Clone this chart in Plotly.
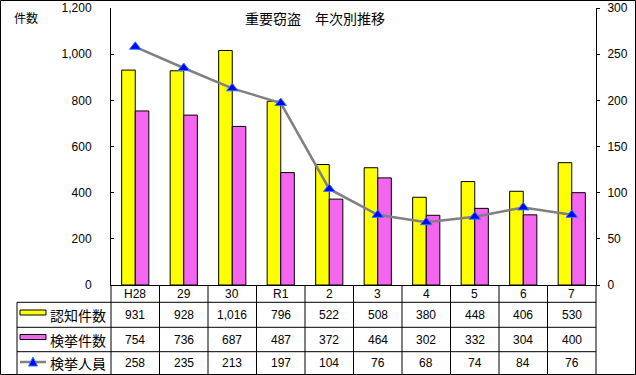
import plotly.graph_objects as go

categories = ["H28", "29", "30", "R1", "2", "3", "4", "5", "6", "7"]
ninchi = [931, 928, 1016, 796, 522, 508, 380, 448, 406, 530]
kenkyo = [754, 736, 687, 487, 372, 464, 302, 332, 304, 400]
jinin = [258, 235, 213, 197, 104, 76, 68, 74, 84, 76]
series_names = ["認知件数", "検挙件数", "検挙人員"]
title_text = "重要窃盗　年次別推移"

W, H = 636, 375
L, R, T, B = 111, 596, 8, 285
PW, PH = R - L, B - T

def px(p):
    return (p - L) / PW

def py(p):
    return (B - p) / PH

FONT = "Liberation Sans, Noto Sans CJK JP, sans-serif"
JFONT = "Noto Sans CJK JP, sans-serif"
YELLOW = "#FFFF00"
PINK = "#F466F0"

fig = go.Figure()
fig.add_trace(go.Bar(x=categories, y=ninchi, name=series_names[0],
                     marker=dict(color=YELLOW, line=dict(color="black", width=1))))
fig.add_trace(go.Bar(x=categories, y=kenkyo, name=series_names[1],
                     marker=dict(color=PINK, line=dict(color="black", width=1))))
fig.add_trace(go.Scatter(x=categories, y=jinin, name=series_names[2], yaxis="y2",
                         mode="lines+markers",
                         line=dict(color="#808080", width=2.5),
                         marker=dict(symbol="triangle-up", size=10, color="#0000FF",
                                     line=dict(color="#3377FF", width=1))))

shapes = []
annos = []

# table grid
rows_y = [302.3, 327.3, 351.7, 374]
n = len(categories)
for i in range(n + 1):
    shapes.append(dict(type="line", xref="paper", yref="paper",
                       x0=i / n, x1=i / n, y0=0, y1=py(374),
                       line=dict(color="black", width=1)))
for yy in rows_y[:3]:
    shapes.append(dict(type="line", xref="paper", yref="paper",
                       x0=px(17), x1=1, y0=py(yy), y1=py(yy),
                       line=dict(color="black", width=1)))
shapes.append(dict(type="line", xref="paper", yref="paper",
                   x0=px(17), x1=px(17), y0=py(302.3), y1=py(374),
                   line=dict(color="black", width=1)))
# outer frame
shapes.append(dict(type="rect", xref="paper", yref="paper",
                   x0=px(0.5), x1=px(635.5), y0=py(374.5), y1=py(0.5),
                   line=dict(color="black", width=1), fillcolor="rgba(0,0,0,0)"))

# legend symbols in table
shapes.append(dict(type="rect", xref="paper", yref="paper",
                   x0=px(20), x1=px(46), y0=py(315), y1=py(310),
                   fillcolor=YELLOW, line=dict(color="black", width=1)))
shapes.append(dict(type="rect", xref="paper", yref="paper",
                   x0=px(20), x1=px(46), y0=py(339.5), y1=py(334.5),
                   fillcolor=PINK, line=dict(color="black", width=1)))
shapes.append(dict(type="line", xref="paper", yref="paper",
                   x0=px(20), x1=px(46), y0=py(362), y1=py(362),
                   line=dict(color="#808080", width=2.5)))
shapes.append(dict(type="path", xref="paper", yref="paper",
                   path=f"M {px(28.5)} {py(366)} L {px(37.5)} {py(366)} L {px(33)} {py(357)} Z",
                   fillcolor="#0000FF", line=dict(color="#3377FF", width=1)))

row_centers = [314.8, 339.5, 362.9]
for name, yc in zip(series_names, row_centers):
    annos.append(dict(text=name, xref="paper", yref="paper", x=px(48), y=py(yc + 0.5),
                      xanchor="left", yanchor="middle", showarrow=False,
                      font=dict(family=JFONT, size=14, color="black")))

for i, c in enumerate(categories):
    annos.append(dict(text=c, xref="x", yref="paper", x=i, y=py(294),
                      xanchor="center", yanchor="middle", showarrow=False,
                      font=dict(family=FONT, size=12, color="black")))
for vals, yc in zip([ninchi, kenkyo, jinin], row_centers):
    for i, v in enumerate(vals):
        annos.append(dict(text=f"{v:,}", xref="x", yref="paper", x=i, y=py(yc),
                          xanchor="center", yanchor="middle", showarrow=False,
                          font=dict(family=FONT, size=12, color="black")))

annos.append(dict(text=title_text, xref="paper", yref="paper", x=px(315), y=py(18),
                  xanchor="center", yanchor="middle", showarrow=False,
                  font=dict(family=JFONT, size=14, color="black")))
annos.append(dict(text="件数", xref="paper", yref="paper", x=px(12), y=py(18),
                  xanchor="left", yanchor="middle", showarrow=False,
                  font=dict(family=JFONT, size=12, color="black")))

fig.update_layout(
    width=W, height=H,
    margin=dict(l=L, r=W - R, t=T, b=H - B, pad=0, autoexpand=False),
    paper_bgcolor="white", plot_bgcolor="white",
    barmode="group", bargap=0.44, bargroupgap=0,
    showlegend=False,
    font=dict(family=FONT, size=12, color="black"),
    xaxis=dict(type="category", showticklabels=False, ticks="", showline=True,
               linecolor="black", linewidth=1, showgrid=False, zeroline=False,
               automargin=False, range=[-0.5, n - 0.5]),
    yaxis=dict(range=[0, 1200], dtick=200, tickformat=",", showgrid=False,
               zeroline=False, showline=True, linecolor="black", linewidth=1,
               ticks="inside", ticklen=3, tickcolor="black", automargin=False,
               ticklabelstandoff=16, tickfont=dict(family=FONT, size=12)),
    yaxis2=dict(range=[0, 300], dtick=50, overlaying="y", side="right",
                showgrid=False, zeroline=False, showline=True, linecolor="black",
                linewidth=1, ticks="outside", ticklen=3, tickcolor="black",
                automargin=False,
                ticklabelstandoff=5, tickfont=dict(family=FONT, size=12)),
    shapes=shapes, annotations=annos,
)

fig.write_html("out.html", config={"displayModeBar": False},
               post_script="document.body.style.margin='0';document.body.style.padding='0';document.body.style.overflow='hidden';")
